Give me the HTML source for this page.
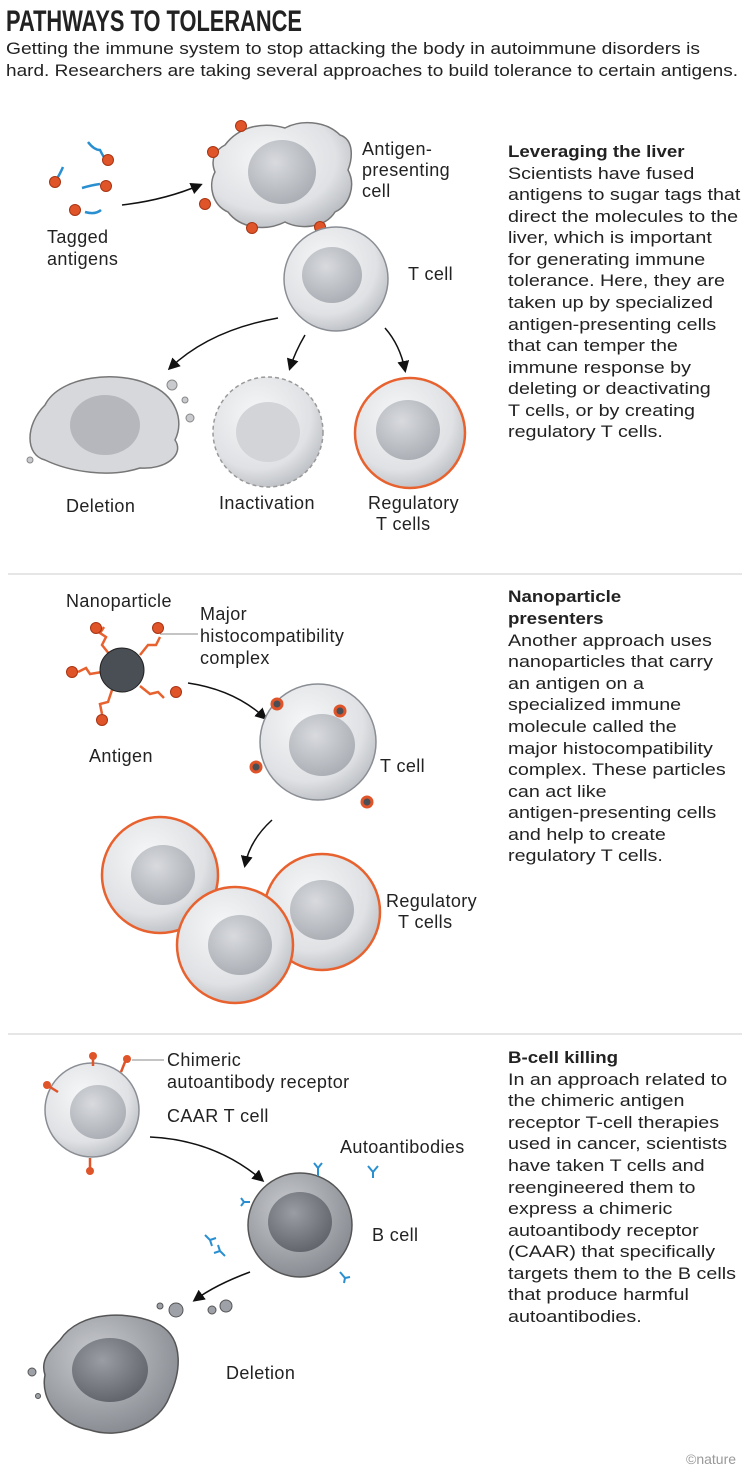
<!DOCTYPE html>
<html><head><meta charset="utf-8"><style>
html,body{margin:0;padding:0;background:#fff}
svg{display:block}
text{font-family:"Liberation Sans",sans-serif;font-size:17px;fill:#222}
.l{font-size:18px;letter-spacing:0.4px}
.b{font-weight:bold}
</style></head><body>
<svg width="751" height="1476" viewBox="0 0 751 1476" xmlns="http://www.w3.org/2000/svg">
<defs>
<radialGradient id="cell" cx="40%" cy="35%" r="70%"><stop offset="0" stop-color="#f6f7f8"/><stop offset="0.7" stop-color="#dfe1e4"/><stop offset="1" stop-color="#b9bcc1"/></radialGradient>
<radialGradient id="nuc" cx="40%" cy="35%" r="70%"><stop offset="0" stop-color="#d8dade"/><stop offset="1" stop-color="#a9adb3"/></radialGradient>
<radialGradient id="bcell" cx="40%" cy="35%" r="70%"><stop offset="0" stop-color="#c9cbcf"/><stop offset="1" stop-color="#85898f"/></radialGradient>
<radialGradient id="bnuc" cx="40%" cy="35%" r="70%"><stop offset="0" stop-color="#9a9ea4"/><stop offset="1" stop-color="#5f6369"/></radialGradient>
<marker id="ar" markerWidth="8" markerHeight="8" refX="6" refY="4" orient="auto"><path d="M0,0 L8,4 L0,8 Z" fill="#111"/></marker>
</defs>

<text x="6" y="31" class="b" style="font-size:30px" textLength="296" lengthAdjust="spacingAndGlyphs">PATHWAYS TO TOLERANCE</text>
<text x="6" y="54" textLength="694" lengthAdjust="spacingAndGlyphs">Getting the immune system to stop attacking the body in autoimmune disorders is</text>
<text x="6" y="76" textLength="732" lengthAdjust="spacingAndGlyphs">hard. Researchers are taking several approaches to build tolerance to certain antigens.</text>

<line x1="8" y1="574" x2="742" y2="574" stroke="#ccc"/>
<line x1="8" y1="1034" x2="742" y2="1034" stroke="#ccc"/>

<g transform="translate(508,0) scale(1.1,1) translate(-508,0)">
<text x="508" y="157" class="b">Leveraging the liver</text>
<text x="508" y="602" class="b">Nanoparticle</text>
<text x="508" y="624" class="b">presenters</text>
<text x="508" y="1063" class="b">B-cell killing</text>
</g>
<g transform="translate(508,0) scale(1.16,1) translate(-508,0)">
<text x="508" y="179">Scientists have fused</text>
<text x="508" y="200">antigens to sugar tags that</text>
<text x="508" y="222">direct the molecules to the</text>
<text x="508" y="243">liver, which is important</text>
<text x="508" y="265">for generating immune</text>
<text x="508" y="286">tolerance. Here, they are</text>
<text x="508" y="308">taken up by specialized</text>
<text x="508" y="330">antigen-presenting cells</text>
<text x="508" y="351">that can temper the</text>
<text x="508" y="373">immune response by</text>
<text x="508" y="394">deleting or deactivating</text>
<text x="508" y="416">T cells, or by creating</text>
<text x="508" y="437">regulatory T cells.</text>

<text x="508" y="646">Another approach uses</text>
<text x="508" y="667">nanoparticles that carry</text>
<text x="508" y="689">an antigen on a</text>
<text x="508" y="710">specialized immune</text>
<text x="508" y="732">molecule called the</text>
<text x="508" y="754">major histocompatibility</text>
<text x="508" y="775">complex. These particles</text>
<text x="508" y="797">can act like</text>
<text x="508" y="818">antigen-presenting cells</text>
<text x="508" y="840">and help to create</text>
<text x="508" y="861">regulatory T cells.</text>

<text x="508" y="1085">In an approach related to</text>
<text x="508" y="1106">the chimeric antigen</text>
<text x="508" y="1128">receptor T-cell therapies</text>
<text x="508" y="1149">used in cancer, scientists</text>
<text x="508" y="1171">have taken T cells and</text>
<text x="508" y="1193">reengineered them to</text>
<text x="508" y="1214">express a chimeric</text>
<text x="508" y="1236">autoantibody receptor</text>
<text x="508" y="1257">(CAAR) that specifically</text>
<text x="508" y="1279">targets them to the B cells</text>
<text x="508" y="1300">that produce harmful</text>
<text x="508" y="1322">autoantibodies.</text>
</g>

<!-- Section 1 -->
<g stroke="#2a8fd0" stroke-width="2.5" fill="none">
<path d="M55,182 q5,-8 8,-15"/><path d="M88,142 q6,8 12,8 q4,8 6,10"/><path d="M82,188 q10,-3 18,-4"/><path d="M85,212 q10,3 16,-2"/>
</g>
<g fill="#e0542a" stroke="#a83412"><circle cx="55" cy="182" r="5.5"/><circle cx="108" cy="160" r="5.5"/><circle cx="106" cy="186" r="5.5"/><circle cx="75" cy="210" r="5.5"/></g>
<text x="47" y="243" class="l">Tagged</text><text x="47" y="265" class="l">antigens</text>
<path d="M122,205 Q165,200 200,185" stroke="#111" stroke-width="1.5" fill="none" marker-end="url(#ar)"/>
<path d="M225,145 C240,125 265,122 285,128 C300,120 325,120 340,135 C355,140 352,160 348,170 C356,185 350,205 335,212 C325,228 300,230 285,222 C265,232 240,228 228,212 C212,205 208,185 215,172 C210,160 215,150 225,145 Z" fill="url(#cell)" stroke="#777" stroke-width="1.5"/>
<ellipse cx="282" cy="172" rx="34" ry="32" fill="url(#nuc)"/>
<g fill="#e0542a" stroke="#a83412"><circle cx="241" cy="126" r="5.5"/><circle cx="213" cy="152" r="5.5"/><circle cx="205" cy="204" r="5.5"/><circle cx="252" cy="228" r="5.5"/><circle cx="320" cy="227" r="5.5"/></g>
<text x="362" y="155" class="l">Antigen-</text><text x="362" y="176" class="l">presenting</text><text x="362" y="197" class="l">cell</text>

<circle cx="336" cy="279" r="52" fill="url(#cell)" stroke="#8a8e94" stroke-width="1.5"/>
<ellipse cx="332" cy="275" rx="30" ry="28" fill="url(#nuc)"/>
<text x="408" y="280" class="l">T cell</text>

<path d="M278,318 Q210,330 170,368" stroke="#111" stroke-width="1.5" fill="none" marker-end="url(#ar)"/>
<path d="M305,335 Q295,352 290,368" stroke="#111" stroke-width="1.5" fill="none" marker-end="url(#ar)"/>
<path d="M385,328 Q400,345 405,370" stroke="#111" stroke-width="1.5" fill="none" marker-end="url(#ar)"/>

<path d="M45,405 C60,375 120,370 150,385 C175,395 185,420 175,440 C185,455 165,470 140,468 C110,478 70,472 45,460 C25,455 25,425 45,405 Z" fill="#d6d8db" stroke="#777" stroke-width="1.5"/>
<ellipse cx="105" cy="425" rx="35" ry="30" fill="#a6aab0" opacity="0.7"/>
<g fill="#c8cace" stroke="#888"><circle cx="172" cy="385" r="5"/><circle cx="185" cy="400" r="3"/><circle cx="190" cy="418" r="4"/><circle cx="30" cy="460" r="3"/></g>
<text x="66" y="512" class="l">Deletion</text>

<circle cx="268" cy="432" r="55" fill="url(#cell)" stroke="#999" stroke-width="1.5" stroke-dasharray="4 3"/>
<ellipse cx="268" cy="432" rx="32" ry="30" fill="#d2d4d8"/>
<text x="219" y="509" class="l">Inactivation</text>

<circle cx="410" cy="433" r="55" fill="url(#cell)" stroke="#e8622f" stroke-width="2.5"/>
<ellipse cx="408" cy="430" rx="32" ry="30" fill="url(#nuc)"/>
<text x="368" y="509" class="l">Regulatory</text><text x="376" y="530" class="l">T cells</text>

<!-- Section 2 -->
<text x="66" y="607" class="l">Nanoparticle</text>
<text x="200" y="620" class="l">Major</text><text x="200" y="642" class="l">histocompatibility</text><text x="200" y="664" class="l">complex</text>
<line x1="160" y1="634" x2="198" y2="634" stroke="#888"/>
<g stroke="#e8622f" stroke-width="2.5" fill="#fff">
<path d="M110,655 l-8,-10 l4,-8 l-6,-4 l4,-6"/><path d="M140,655 l8,-10 l8,0 l4,-8"/>
<path d="M102,672 l-12,2 l-4,-6 l-8,4"/><path d="M140,686 l10,8 l8,-2 l6,6"/><path d="M112,690 l-4,12 l-8,2 l2,10"/>
</g>
<circle cx="122" cy="670" r="22" fill="#4a4e55" stroke="#222"/>
<g fill="#e0542a" stroke="#a83412"><circle cx="96" cy="628" r="5.5"/><circle cx="158" cy="628" r="5.5"/><circle cx="72" cy="672" r="5.5"/><circle cx="176" cy="692" r="5.5"/><circle cx="102" cy="720" r="5.5"/></g>
<text x="89" y="762" class="l">Antigen</text>
<path d="M188,683 Q235,690 265,718" stroke="#111" stroke-width="1.5" fill="none" marker-end="url(#ar)"/>

<circle cx="318" cy="742" r="58" fill="url(#cell)" stroke="#8a8e94" stroke-width="1.5"/>
<ellipse cx="322" cy="745" rx="33" ry="31" fill="url(#nuc)"/>
<g fill="#4a4e55" stroke="#e0542a" stroke-width="3"><circle cx="277" cy="704" r="5"/><circle cx="340" cy="711" r="5"/><circle cx="256" cy="767" r="5"/><circle cx="367" cy="802" r="5"/></g>
<text x="380" y="772" class="l">T cell</text>
<path d="M272,820 Q250,840 245,865" stroke="#111" stroke-width="1.5" fill="none" marker-end="url(#ar)"/>

<g stroke="#e8622f" stroke-width="2.5">
<circle cx="160" cy="875" r="58" fill="url(#cell)"/><ellipse cx="163" cy="875" rx="32" ry="30" fill="url(#nuc)" stroke="none"/>
<circle cx="322" cy="912" r="58" fill="url(#cell)"/><ellipse cx="322" cy="910" rx="32" ry="30" fill="url(#nuc)" stroke="none"/>
<circle cx="235" cy="945" r="58" fill="url(#cell)"/><ellipse cx="240" cy="945" rx="32" ry="30" fill="url(#nuc)" stroke="none"/>
</g>
<text x="386" y="907" class="l">Regulatory</text><text x="398" y="928" class="l">T cells</text>

<!-- Section 3 -->
<circle cx="92" cy="1110" r="47" fill="url(#cell)" stroke="#8a8e94" stroke-width="1.5"/>
<ellipse cx="98" cy="1112" rx="28" ry="27" fill="url(#nuc)"/>
<g stroke="#e0542a" stroke-width="2.5"><line x1="93" y1="1058" x2="93" y2="1066"/><line x1="125" y1="1062" x2="121" y2="1072"/><line x1="50" y1="1087" x2="58" y2="1092"/><line x1="90" y1="1168" x2="90" y2="1158"/></g>
<g fill="#e0542a"><circle cx="93" cy="1056" r="4"/><circle cx="127" cy="1059" r="4"/><circle cx="47" cy="1085" r="4"/><circle cx="90" cy="1171" r="4"/></g>
<line x1="132" y1="1060" x2="164" y2="1060" stroke="#888"/>
<text x="167" y="1066" class="l">Chimeric</text><text x="167" y="1088" class="l">autoantibody receptor</text>
<text x="167" y="1122" class="l">CAAR T cell</text>
<path d="M150,1137 Q215,1140 262,1180" stroke="#111" stroke-width="1.5" fill="none" marker-end="url(#ar)"/>

<circle cx="300" cy="1225" r="52" fill="url(#bcell)" stroke="#555" stroke-width="1.5"/>
<ellipse cx="300" cy="1222" rx="32" ry="30" fill="url(#bnuc)"/>
<g stroke="#2a8fd0" stroke-width="2" fill="none">
<path d="M318,1176 v-8 m0,0 l-4,-5 m4,5 l4,-5"/><path d="M250,1202 h-6 m0,0 l-3,-4 m3,4 l-3,4"/><path d="M340,1272 l5,6 m0,0 l-1,5 m1,-5 l5,-1"/>
<path d="M373,1172 l5,-6 m-5,6 l-5,-6 m5,6 v6"/><path d="M205,1235 l5,5 m0,0 l6,-2 m-6,2 l2,6"/><path d="M225,1256 l-5,-5 m0,0 l-6,2 m6,-2 l-2,-6"/>
</g>
<text x="340" y="1153" class="l">Autoantibodies</text>
<text x="372" y="1241" class="l">B cell</text>
<path d="M250,1272 Q215,1285 195,1300" stroke="#111" stroke-width="1.5" fill="none" marker-end="url(#ar)"/>

<path d="M60,1340 C80,1310 130,1310 160,1325 C185,1340 180,1375 170,1395 C160,1425 120,1440 90,1430 C60,1425 40,1400 45,1375 C40,1360 50,1350 60,1340 Z" fill="url(#bcell)" stroke="#555" stroke-width="1.5"/>
<ellipse cx="110" cy="1370" rx="38" ry="32" fill="url(#bnuc)"/>
<g fill="#9ea2a8" stroke="#555"><circle cx="176" cy="1310" r="7"/><circle cx="212" cy="1310" r="4"/><circle cx="226" cy="1306" r="6"/><circle cx="160" cy="1306" r="3"/><circle cx="32" cy="1372" r="4"/><circle cx="38" cy="1396" r="2.5"/></g>
<text x="226" y="1379" class="l">Deletion</text>
<text x="686" y="1464" style="font-size:14px;fill:#999">©nature</text>
</svg>
</body></html>
